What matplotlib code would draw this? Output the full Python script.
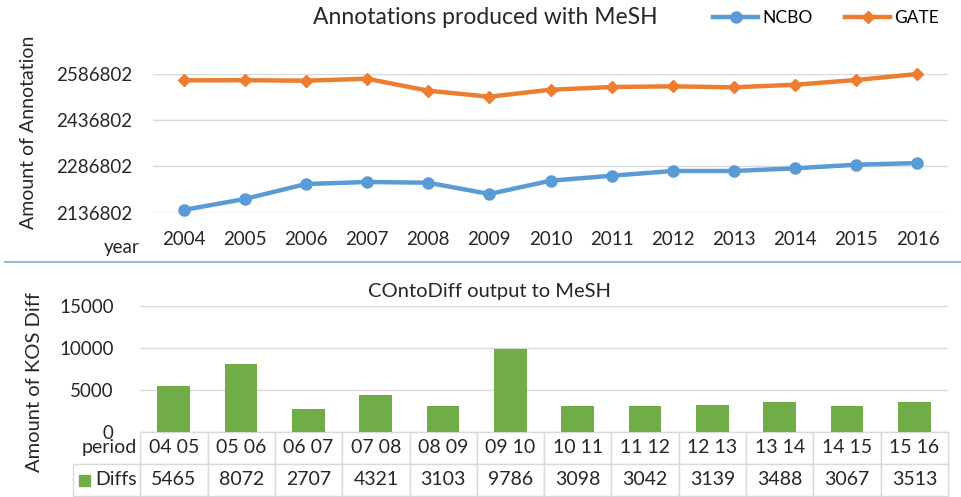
import matplotlib
matplotlib.use("Agg")
import matplotlib.pyplot as plt
from matplotlib.lines import Line2D
from matplotlib.patches import Rectangle
from matplotlib.table import Table

plt.rcParams['font.family'] = ['Lato', 'DejaVu Sans']

# ---- data ----
years = [2004, 2005, 2006, 2007, 2008, 2009, 2010, 2011, 2012, 2013, 2014, 2015, 2016]
ncbo = [2145600, 2181200, 2229900, 2236400, 2234100, 2197500, 2240600,
        2256800, 2272100, 2272100, 2280800, 2292500, 2298000]
gate = [2566300, 2566600, 2565000, 2571500, 2532600, 2513100, 2535800,
        2544600, 2546800, 2543600, 2552000, 2567300, 2586800]
annot_ticks = [2136802, 2286802, 2436802, 2586802]

periods = ["04 05", "05 06", "06 07", "07 08", "08 09", "09 10",
           "10 11", "11 12", "12 13", "13 14", "14 15", "15 16"]
diffs = [5465, 8072, 2707, 4321, 3103, 9786, 3098, 3042, 3139, 3488, 3067, 3513]
diff_ticks = [0, 5000, 10000, 15000]

BLUE = "#5b9bd5"
ORANGE = "#ed7d31"
GREEN = "#70ad47"
GRID = "#d9d9d9"
TXT = "#262626"

fig = plt.figure(figsize=(9.62, 4.97), dpi=100)
W, H = 962, 497

def box(x0, y0, x1, y1):
    return [x0 / W, 1 - y1 / H, (x1 - x0) / W, (y1 - y0) / H]

# ============================================================
# TOP: annotations line chart
# ============================================================
ax1 = fig.add_axes(box(153, 74, 948, 212.7))
xs = list(range(len(years)))
ax1.plot(xs, ncbo, color=BLUE, lw=3.2, marker='o', ms=8, label="NCBO", clip_on=False)
ax1.plot(xs, gate, color=ORANGE, lw=3.2, marker='D', ms=6.5, label="GATE", clip_on=False)
ax1.set_xlim(-0.5, len(years) - 0.5)
ax1.set_ylim(annot_ticks[0], annot_ticks[-1])
ax1.set_yticks(annot_ticks)
ax1.set_yticklabels([str(t) for t in annot_ticks])
ax1.set_xticks(xs)
ax1.set_xticklabels([str(y) for y in years])
ax1.grid(axis='y', color=GRID, lw=1)
ax1.set_axisbelow(True)
for s in ax1.spines.values():
    s.set_visible(False)
ax1.tick_params(length=0, labelsize=13.5, colors=TXT, pad=15)
ax1.tick_params(axis='x', pad=13)
fig.text(29 / W, 1 - 132 / H, "Amount of Annotation", ha='center', va='center',
         rotation=90, fontsize=14, color=TXT)
fig.text(485 / W, 1 - 17 / H, "Annotations produced with MeSH", ha='center', va='center',
         fontsize=16.5, color=TXT)
fig.text(140 / W, 1 - 247 / H, "year", ha='right', va='center', fontsize=13.5, color=TXT)
handles = [Line2D([], [], color=BLUE, lw=3.2, marker='o', ms=8),
           Line2D([], [], color=ORANGE, lw=3.2, marker='D', ms=6.5)]
fig.legend(handles, ["NCBO", "GATE"], loc='center', bbox_to_anchor=(826 / W, 1 - 18 / H),
           ncol=2, frameon=False, fontsize=12.5, handlelength=2.6, columnspacing=1.9,
           handletextpad=0.2)

# separator
fig.add_artist(Line2D([5 / W, 960 / W], [1 - 262 / H, 1 - 262 / H], color="#8fbbe5", lw=1.5))

# ============================================================
# BOTTOM: COntoDiff bar chart + data table
# ============================================================
ax2 = fig.add_axes(box(140, 305.7, 948, 431.7))
px = list(range(len(periods)))
ax2.bar(px, diffs, width=0.49, color=GREEN)
ax2.set_xlim(-0.5, len(periods) - 0.5)
ax2.set_ylim(diff_ticks[0], diff_ticks[-1])
ax2.set_yticks(diff_ticks)
ax2.set_xticks([])
ax2.grid(axis='y', color=GRID, lw=1)
ax2.set_axisbelow(True)
for s in ax2.spines.values():
    s.set_visible(False)
ax2.tick_params(length=0, labelsize=13.5, colors=TXT, pad=19)
fig.text(490 / W, 1 - 291 / H, "COntoDiff output to MeSH", ha='center', va='center',
         fontsize=14.5, color=TXT)
fig.text(35 / W, 1 - 382 / H, "Amount of KOS Diff", ha='center', va='center',
         rotation=90, fontsize=14.5, color=TXT)

# table underneath: label column + one column per period
aw = 948 - 140
ah = 431.7 - 305.7
tab_h = (496 - 432) / ah
tab_left = -(140 - 73) / aw
tab_w = (948 - 73) / aw
rows = [["period"] + periods, ["Diffs"] + [str(d) for d in diffs]]
ncol = len(rows[0])
tbl = Table(ax2, bbox=[tab_left, -tab_h, tab_w, tab_h])
for r, row in enumerate(rows):
    for c, txt in enumerate(row):
        cell = tbl.add_cell(r, c, width=1 / ncol, height=0.5, text=txt,
                            loc='right' if c == 0 else 'center')
        cell.set_edgecolor(GRID)
        cell.set_linewidth(1)
        cell.get_text().set_color(TXT)
        if c == 0:
            cell.PAD = 0.05
tbl[0, 0].visible_edges = ''
tbl.auto_set_font_size(False)
tbl.set_fontsize(14)
ax2.add_table(tbl)

# legend key inside the "Diffs" label cell
ax2.add_patch(Rectangle(((79 - 140) / aw, -(486 - 431.7) / ah),
                        11 / aw, 11 / ah,
                        transform=ax2.transAxes, color=GREEN, clip_on=False))

fig.savefig("out.png", dpi=100)
